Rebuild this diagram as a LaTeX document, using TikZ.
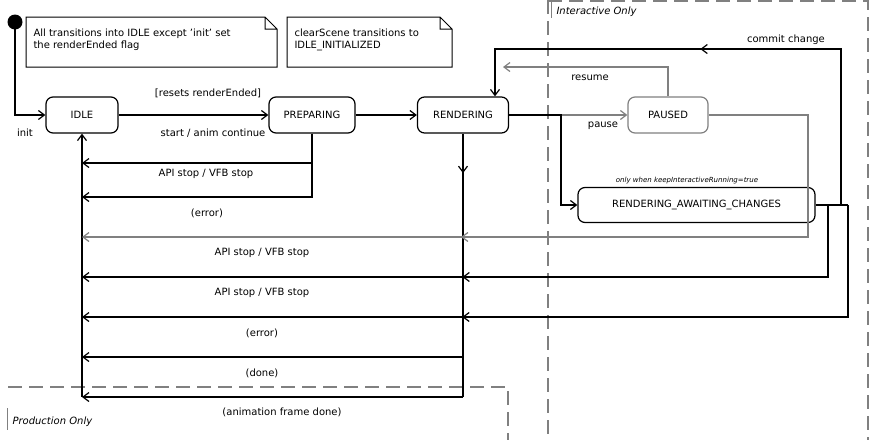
\documentclass[tikz,border=0pt]{standalone}
\usepackage{fontspec}
\setmainfont{DejaVu Sans}
\usetikzlibrary{arrows.meta,decorations.markings}
\begin{document}
\begin{tikzpicture}[x=1pt,y=-1pt,
  st/.style={draw,line width=1.2pt,rounded corners=7pt,minimum height=36pt,inner sep=0pt,font=\fontsize{10}{12}\selectfont},
  gst/.style={st,draw=gray},
  note/.style={draw,line width=1pt,align=left,anchor=north west,inner sep=6pt,font=\fontsize{10}{12}\selectfont},
  tr/.style={line width=1.2pt,-{Straight Barb[length=6pt,width=9pt]}},
  gtr/.style={tr,gray},
  lbl/.style={font=\fontsize{10}{12}\selectfont},
  mid/.style={postaction={decorate},decoration={markings,mark=at position #1 with {\arrow{Straight Barb[length=6pt,width=9pt]}}}},
  regionline/.style={gray,line width=1.3pt,dash pattern=on 14pt off 7pt}]
\useasboundingbox (0,0) rectangle (871,440);
% regions
\draw[regionline] (548,0) -- (548,440);
\draw[regionline] (548,1) -- (868,1) -- (868,440);
\draw[regionline] (8,387) -- (508,387) -- (508,440);
\draw[gray,line width=0.8pt] (551,2) -- (551,18);
\node[lbl,font=\fontsize{10}{12}\selectfont\itshape,anchor=west] (lint) at (553,12) {Interactive Only};
\draw[gray,line width=0.8pt] (7,408) -- (7,430);
\node[lbl,font=\fontsize{10}{12}\selectfont\itshape,anchor=west] (lprod) at (9,422) {Production Only};
% notes
\draw[line width=1pt] (26,17) -- (265,17) -- (277,29) -- (277,67) -- (26,67) -- cycle (265,17) -- (265,29) -- (277,29);
\node[note,draw=none] (n1) at (27,22) {All transitions into IDLE except 'init' set\\the renderEnded flag};
\draw[line width=1pt] (287,17) -- (440,17) -- (452,29) -- (452,67) -- (287,67) -- cycle (440,17) -- (440,29) -- (452,29);
\node[note,draw=none] (n2) at (288,22) {clearScene transitions to\\IDLE\_INITIALIZED};
% states
\fill (15,22) circle (7.5pt);
\coordinate (init) at (15,22);
\node[st,minimum width=72pt] (idle) at (82,115) {IDLE};
\node[st,minimum width=86pt] (prep) at (312,115) {PREPARING};
\node[st,minimum width=91pt] (rend) at (463,115) {RENDERING};
\node[gst,minimum width=80pt] (paused) at (668,115) {PAUSED};
\node[st,minimum width=237pt,minimum height=35pt] (rac) at (696.5,205) {RENDERING\_AWAITING\_CHANGES};
\node[font=\fontsize{7}{8}\selectfont\itshape] (only) at (687,181) {only when keepInteractiveRunning=true};
% init
\draw[tr] (init) |- (idle.west);
\node[lbl] (linit) at (25,133) {init};
\draw[tr] (idle) -- (prep);
\node[lbl] (l1) at (208,93) {[resets renderEnded]};
\node[lbl] (l2) at (213,133) {start / anim continue};
\draw[tr] (prep) -- (rend);
% bottom bus
\coordinate (bus) at (82,397);
\draw[tr] (bus) -- (idle.south);
\draw[tr] (prep.south) |- (82,163);
\draw[tr] (prep.south) |- (82,197);
\node[lbl] (l3) at (206,174) {API stop / VFB stop};
\node[lbl] (l4) at (207,213) {(error)};
\draw[draw=black,line width=1.2pt,mid=0.15] (rend.south) -- (463,397);
\draw[tr] (463,357) -- (82,357);
\draw[tr] (463,397) -- (82,397);
\node[lbl] (l5) at (262,333) {(error)};
\node[lbl] (l6) at (262,373) {(done)};
\node[lbl] (l7) at (282,412) {(animation frame done)};
% paused
\draw[gtr] (rend.east) -- (paused.west);
\node[lbl] (lp) at (603,126) {pause};
\draw[gtr] (paused.north) |- (503,67);
\node[lbl] (lr) at (590,78) {resume};
\draw[gtr,mid=0.6] (paused.east) -| (808,237) -- (82,237);
% rendering -> rac
\draw[tr] (rend.east) -| (561,205) -- (rac.west);
% commit
\draw[line width=1.2pt] (rac.east) -- (848,205);
\draw[tr,mid=0.54] (841,205) |- (495,49) -- (rend.north -| 495,0);
\node[lbl] (lc) at (786,40) {commit change};
\draw[tr,mid=0.535] (828,205) |- (82,277);
\draw[tr,mid=0.567] (848,205) |- (82,317);
\node[lbl] (l8) at (262,253) {API stop / VFB stop};
\node[lbl] (l9) at (262,293) {API stop / VFB stop};
\end{tikzpicture}
\end{document}
